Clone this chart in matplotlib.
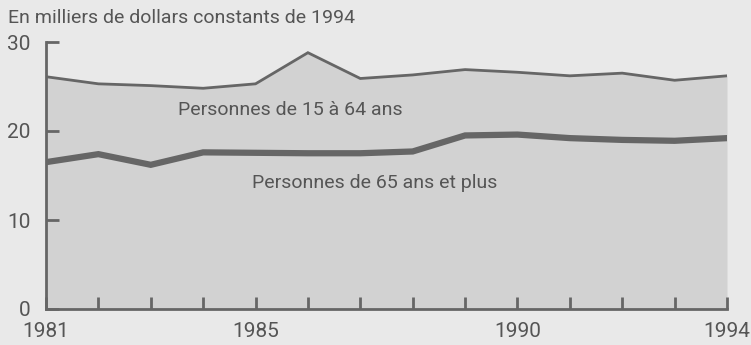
import matplotlib
matplotlib.use("Agg")
import matplotlib.pyplot as plt

years = list(range(1981, 1995))
age_15_64 = [26.1, 25.3, 25.1, 24.8, 25.3, 28.8, 25.9, 26.3, 26.9, 26.6, 26.2, 26.5, 25.7, 26.2]
age_65_plus = [16.5, 17.4, 16.2, 17.6, 17.55, 17.5, 17.5, 17.7, 19.5, 19.6, 19.2, 19.0, 18.9, 19.2]
x_labels = {1981: "1981", 1985: "1985", 1990: "1990", 1994: "1994"}
y_ticks = [0, 10, 20, 30]

title = "En milliers de dollars constants de 1994"
label_15_64 = "Personnes de 15 à 64 ans"
label_65 = "Personnes de 65 ans et plus"

BG = "#e9e9e9"
FILL = "#d2d2d2"
INK = "#666666"
TEXT = "#555555"

plt.rcParams["font.family"] = ["Roboto", "DejaVu Sans"]

fig = plt.figure(figsize=(7.51, 3.45), dpi=100, facecolor=BG)
ax = fig.add_axes([46 / 751, 36 / 345, (727 - 46) / 751, (303 - 36) / 345])
ax.set_facecolor(BG)

ax.fill_between(years, 0, age_15_64, color=FILL, lw=0, zorder=1)
ax.plot(years, age_15_64, color=INK, lw=2.0, zorder=3, solid_joinstyle="miter")
ax.plot(years, age_65_plus, color=INK, lw=4.5, zorder=3, solid_joinstyle="miter")

ax.set_xlim(1981, 1994)
ax.set_ylim(0, 30)

for side in ("top", "right"):
    ax.spines[side].set_visible(False)
for side in ("left", "bottom"):
    ax.spines[side].set_color(INK)
    ax.spines[side].set_linewidth(2)

ax.set_yticks(y_ticks)
ax.set_yticklabels([str(v) for v in y_ticks])
ax.set_xticks(years)
ax.set_xticklabels([x_labels.get(y, "") for y in years])
ax.tick_params(axis="both", direction="in", length=9, width=2, color=INK,
               labelcolor=TEXT, labelsize=15)
ax.tick_params(axis="x", pad=9.5)
ax.tick_params(axis="y", pad=11)

fig.text(8 / 751, 1 - 18 / 345, title, ha="left", va="center", fontsize=14, color=TEXT)
ax.text(1985.66, 22.4, label_15_64, ha="center", va="center", fontsize=14, color=TEXT, zorder=4)
ax.text(1987.28, 14.2, label_65, ha="center", va="center", fontsize=14, color=TEXT, zorder=4)

fig.savefig("out.png", dpi=100, facecolor=BG)
